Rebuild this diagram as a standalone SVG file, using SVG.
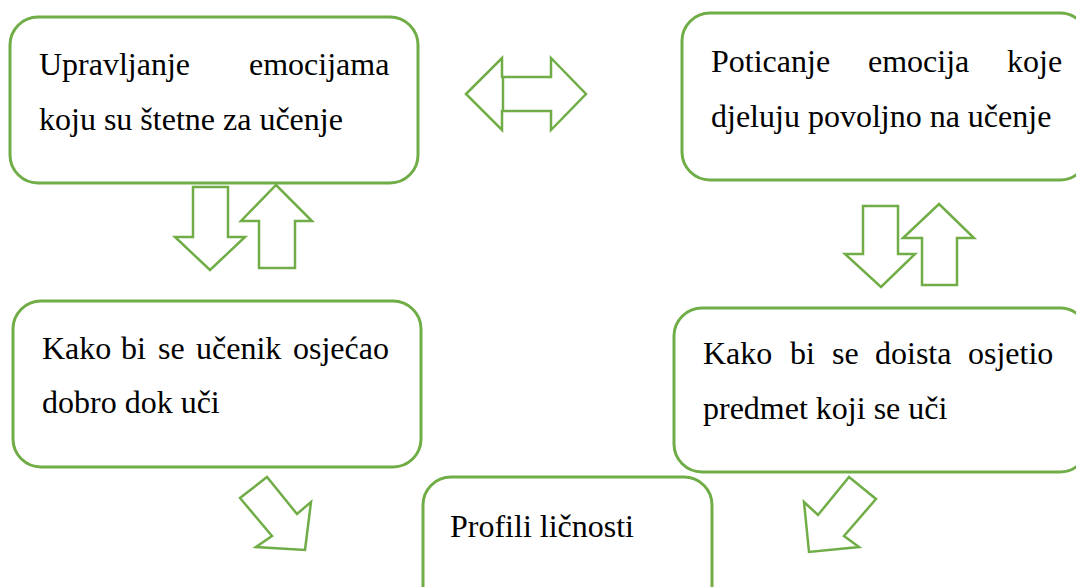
<svg xmlns="http://www.w3.org/2000/svg" width="1076" height="587" viewBox="0 0 1076 587">
<style>
.box{fill:#fff;stroke:#70AD47;stroke-width:3}
.arr{fill:#fff;stroke:#70AD47;stroke-width:2.5;stroke-linejoin:miter}
.t{font-family:"Liberation Serif","Times New Roman",serif;font-size:32px;fill:#000}
</style>
<rect width="1076" height="587" fill="#fff"/>
<g id="connectors">
<polygon class="arr" points="466,94 502,58 502,77 551,77 551,58 586,94 551,130 551,111 502,111 502,130"/>
<line class="arr" x1="503" y1="77" x2="503" y2="111"/>
<polygon class="arr" points="193,187 228,187 228,237 245,237 210,270 175,237 193,237"/>
<polygon class="arr" points="276,185 312,221 295,221 295,268 259,268 259,221 241,221"/>
<polygon class="arr" points="863,206 898,206 898,254 915,254 881,287 845,254 863,254"/>
<polygon class="arr" points="939,204 974,238 957,238 957,285 922,285 922,238 903,238"/>
<polygon class="arr" points="267,477 240,498 272,536 256,547 305,550 311,502 297,514"/>
<polygon class="arr" points="849,477 876,499 844,536 859,547 809,552 804,502 818,515"/>
</g>
<g id="node1">
<rect class="box" x="10" y="17" width="408" height="166" rx="28"/>
<text class="t" y="75"><tspan x="39">Upravljanje</tspan><tspan x="249">emocijama</tspan></text>
<text class="t" x="39" y="130">koju su štetne za učenje</text>
</g>
<g id="node2">
<rect class="box" x="682" y="13" width="406" height="167" rx="28"/>
<text class="t" y="72"><tspan x="711">Poticanje</tspan><tspan x="868">emocija</tspan><tspan x="1007">koje</tspan></text>
<text class="t" x="711" y="127">djeluju povoljno na učenje</text>
</g>
<g id="node3">
<rect class="box" x="13" y="301" width="408" height="166" rx="28"/>
<text class="t" y="359"><tspan x="42">Kako</tspan><tspan x="121">bi</tspan><tspan x="158">se</tspan><tspan x="196">učenik</tspan><tspan x="293">osjećao</tspan></text>
<text class="t" x="42" y="413">dobro dok uči</text>
</g>
<g id="node4">
<rect class="box" x="674" y="308" width="414" height="164" rx="28"/>
<text class="t" y="364"><tspan x="703">Kako</tspan><tspan x="790">bi</tspan><tspan x="832">se</tspan><tspan x="875">doista</tspan><tspan x="968">osjetio</tspan></text>
<text class="t" x="703" y="419">predmet koji se uči</text>
</g>
<g id="node5">
<rect class="box" x="423" y="477" width="289" height="150" rx="28"/>
<text class="t" x="450" y="537">Profili ličnosti</text>
</g>
</svg>
